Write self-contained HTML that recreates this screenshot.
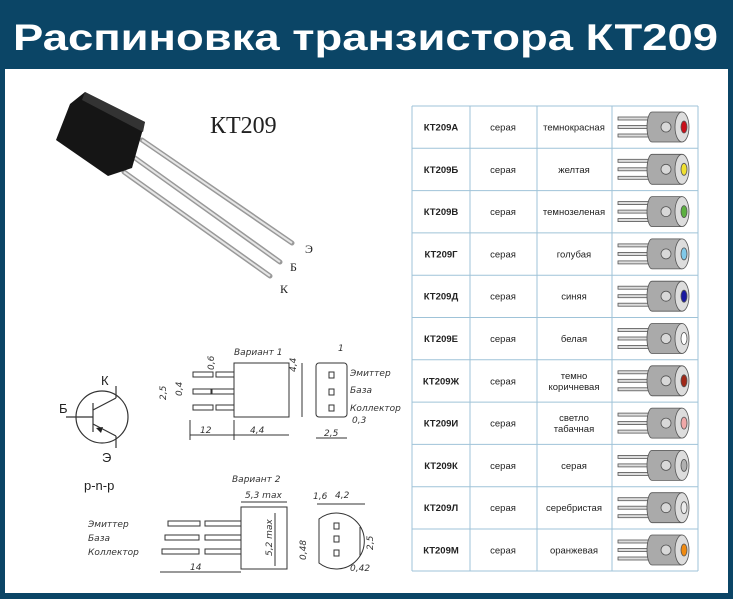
<!DOCTYPE html>
<html><head><meta charset="utf-8"><style>
html,body{margin:0;padding:0;background:#0b4566;}
svg{display:block}
</style></head><body>
<svg width="733" height="599" xmlns="http://www.w3.org/2000/svg" xmlns:xlink="http://www.w3.org/1999/xlink" font-family="Liberation Sans, DejaVu Sans, sans-serif">
<defs>
<g id="ic" stroke="#555" stroke-width="0.8">
<rect x="618" y="-10" width="34" height="3" fill="#ddd"/>
<rect x="618" y="-1.5" width="34" height="3" fill="#ddd"/>
<rect x="618" y="7" width="34" height="3" fill="#ddd"/>
<path d="M652 -15 h30 v30 h-30 a5 15 0 0 1 0 -30 z" fill="#aaa"/>
<ellipse cx="682" cy="0" rx="7" ry="15" fill="#ddd"/>
<circle cx="666" cy="0" r="5" fill="#d8d8d8"/>
</g>
</defs>
<rect width="733" height="599" fill="#0b4566"/>
<rect x="5" y="69" width="723" height="524" fill="#fff"/>
<text x="13" y="50" font-size="37" font-weight="bold" fill="#fff" textLength="705" lengthAdjust="spacingAndGlyphs">Распиновка транзистора КТ209</text>

<g>
<line x1="142" y1="140" x2="292" y2="243" stroke="#999" stroke-width="5" stroke-linecap="round"/>
<line x1="142" y1="140" x2="292" y2="243" stroke="#e6e6e6" stroke-width="2"/>
<line x1="135" y1="158" x2="280" y2="262" stroke="#999" stroke-width="5" stroke-linecap="round"/>
<line x1="135" y1="158" x2="280" y2="262" stroke="#e6e6e6" stroke-width="2"/>
<line x1="124" y1="172" x2="270" y2="276" stroke="#999" stroke-width="5" stroke-linecap="round"/>
<line x1="124" y1="172" x2="270" y2="276" stroke="#e6e6e6" stroke-width="2"/>
<polygon points="85,92 145,122 132,168 108,176 56,140 70,104" fill="#151515"/>
<polygon points="85,92 145,122 143,132 82,100" fill="#333"/>
<text x="210" y="133" font-family="Liberation Serif, serif" font-size="24" fill="#222">КТ209</text>
<text x="305" y="253" font-family="Liberation Serif, serif" font-size="12" fill="#222">Э</text>
<text x="290" y="271" font-family="Liberation Serif, serif" font-size="12" fill="#222">Б</text>
<text x="280" y="293" font-family="Liberation Serif, serif" font-size="12" fill="#222">К</text>
</g>

<g stroke="#333" stroke-width="1.2" fill="none">
<circle cx="102" cy="417" r="26"/>
<line x1="66" y1="417" x2="93" y2="417"/>
<line x1="93" y1="403" x2="93" y2="432"/>
<line x1="93" y1="410" x2="116" y2="398"/>
<line x1="116" y1="398" x2="116" y2="386"/>
<line x1="93" y1="424" x2="116" y2="436"/>
<line x1="116" y1="436" x2="116" y2="448"/>
</g>
<polygon points="96,428 103,427 101,433" fill="#222"/>
<text x="101" y="385" font-size="13" fill="#222">К</text>
<text x="59" y="413" font-size="13" fill="#222">Б</text>
<text x="102" y="462" font-size="13" fill="#222">Э</text>
<text x="84" y="490" font-size="13" fill="#222">p-n-p</text>

<g stroke="#333" stroke-width="1" fill="none">
<rect x="234" y="363" width="55" height="54"/>
<rect x="193" y="372" width="20" height="5"/><rect x="216" y="372" width="18" height="5"/>
<rect x="193" y="389" width="18" height="5"/><rect x="212" y="389" width="22" height="5"/>
<rect x="193" y="405" width="20" height="5"/><rect x="216" y="405" width="18" height="5"/>
<line x1="190" y1="435" x2="289" y2="435"/><line x1="234" y1="420" x2="234" y2="440"/><line x1="190" y1="420" x2="190" y2="440"/>
<line x1="302" y1="363" x2="302" y2="417"/>
<rect x="316" y="363" width="31" height="54" rx="3"/>
<rect x="329" y="372" width="5" height="6"/><rect x="329" y="389" width="5" height="6"/><rect x="329" y="405" width="5" height="6"/>
<line x1="316" y1="438" x2="347" y2="438"/>
<rect x="241" y="507" width="46" height="62"/>
<rect x="168" y="521" width="32" height="5"/><rect x="205" y="521" width="36" height="5"/>
<rect x="165" y="535" width="34" height="5"/><rect x="205" y="535" width="36" height="5"/>
<rect x="162" y="549" width="37" height="5"/><rect x="205" y="549" width="36" height="5"/>
<line x1="160" y1="572" x2="241" y2="572"/><line x1="241" y1="502" x2="287" y2="502"/>
<line x1="275" y1="513" x2="275" y2="566"/>
<path d="M319 519 A28 28 0 1 1 319 563 Z"/>
<rect x="334" y="523" width="5" height="6"/><rect x="334" y="536" width="5" height="6"/><rect x="334" y="550" width="5" height="6"/>
<line x1="317" y1="504" x2="365" y2="504"/><line x1="360" y1="527" x2="360" y2="556"/>
</g>
<g font-family="DejaVu Sans, sans-serif" font-style="italic" font-size="9" fill="#333">
<text x="234" y="355">Вариант 1</text>
<text x="200" y="433">12</text><text x="250" y="433">4,4</text>
<text x="350" y="376">Эмиттер</text><text x="350" y="393">База</text><text x="350" y="411">Коллектор</text>
<text x="352" y="423">0,3</text><text x="324" y="436">2,5</text><text x="338" y="351">1</text>
<text x="232" y="482">Вариант 2</text>
<text x="245" y="498">5,3 max</text>
<text x="88" y="527">Эмиттер</text><text x="88" y="541">База</text><text x="88" y="555">Коллектор</text>
<text x="190" y="570">14</text><text x="313" y="499">1,6</text><text x="335" y="498">4,2</text><text x="350" y="571">0,42</text>
<text transform="translate(296 372) rotate(-90)">4,4</text>
<text transform="translate(166 400) rotate(-90)">2,5</text>
<text transform="translate(182 396) rotate(-90)">0,4</text>
<text transform="translate(214 370) rotate(-90)">0,6</text>
<text transform="translate(272 556) rotate(-90)">5,2 max</text>
<text transform="translate(306 560) rotate(-90)">0,48</text>
<text transform="translate(373 550) rotate(-90)">2,5</text>
</g>

<g stroke="#9fc3d8" stroke-width="1">
<line x1="412" y1="106" x2="412" y2="571"/><line x1="470" y1="106" x2="470" y2="571"/>
<line x1="537" y1="106" x2="537" y2="571"/><line x1="612" y1="106" x2="612" y2="571"/>
<line x1="698" y1="106" x2="698" y2="571"/>
<line x1="412" y1="106" x2="698" y2="106"/><line x1="412" y1="148.3" x2="698" y2="148.3"/>
<line x1="412" y1="190.6" x2="698" y2="190.6"/><line x1="412" y1="232.9" x2="698" y2="232.9"/>
<line x1="412" y1="275.2" x2="698" y2="275.2"/><line x1="412" y1="317.5" x2="698" y2="317.5"/>
<line x1="412" y1="359.8" x2="698" y2="359.8"/><line x1="412" y1="402.1" x2="698" y2="402.1"/>
<line x1="412" y1="444.4" x2="698" y2="444.4"/><line x1="412" y1="486.7" x2="698" y2="486.7"/>
<line x1="412" y1="529" x2="698" y2="529"/><line x1="412" y1="571" x2="698" y2="571"/>
</g>

<g font-size="9.5" fill="#222" text-anchor="middle">
<g font-weight="bold">
<text x="441" y="130.5">КТ209А</text><text x="441" y="172.8">КТ209Б</text><text x="441" y="215.1">КТ209В</text>
<text x="441" y="257.4">КТ209Г</text><text x="441" y="299.7">КТ209Д</text><text x="441" y="342">КТ209Е</text>
<text x="441" y="384.3">КТ209Ж</text><text x="441" y="426.6">КТ209И</text><text x="441" y="468.9">КТ209К</text>
<text x="441" y="511.2">КТ209Л</text><text x="441" y="553.5">КТ209М</text>
</g>
<text x="503" y="130.5">серая</text><text x="503" y="172.8">серая</text><text x="503" y="215.1">серая</text>
<text x="503" y="257.4">серая</text><text x="503" y="299.7">серая</text><text x="503" y="342">серая</text>
<text x="503" y="384.3">серая</text><text x="503" y="426.6">серая</text><text x="503" y="468.9">серая</text>
<text x="503" y="511.2">серая</text><text x="503" y="553.5">серая</text>
<text x="574" y="130.5">темнокрасная</text><text x="574" y="172.8">желтая</text><text x="574" y="215.1">темнозеленая</text>
<text x="574" y="257.4">голубая</text><text x="574" y="299.7">синяя</text><text x="574" y="342">белая</text>
<text x="574" y="378.8">темно</text><text x="574" y="389.8">коричневая</text>
<text x="574" y="421.1">светло</text><text x="574" y="432.1">табачная</text>
<text x="574" y="468.9">серая</text><text x="574" y="511.2">серебристая</text><text x="574" y="553.5">оранжевая</text>
</g>

<use xlink:href="#ic" href="#ic" transform="translate(0 127)"/>
<use xlink:href="#ic" href="#ic" transform="translate(0 169.3)"/>
<use xlink:href="#ic" href="#ic" transform="translate(0 211.6)"/>
<use xlink:href="#ic" href="#ic" transform="translate(0 253.9)"/>
<use xlink:href="#ic" href="#ic" transform="translate(0 296.2)"/>
<use xlink:href="#ic" href="#ic" transform="translate(0 338.5)"/>
<use xlink:href="#ic" href="#ic" transform="translate(0 380.8)"/>
<use xlink:href="#ic" href="#ic" transform="translate(0 423.1)"/>
<use xlink:href="#ic" href="#ic" transform="translate(0 465.4)"/>
<use xlink:href="#ic" href="#ic" transform="translate(0 507.7)"/>
<use xlink:href="#ic" href="#ic" transform="translate(0 550)"/>
<g stroke="#555" stroke-width="0.8">
<ellipse cx="684" cy="127" rx="3" ry="6" fill="#c8101a"/>
<ellipse cx="684" cy="169.3" rx="3" ry="6" fill="#f0e030"/>
<ellipse cx="684" cy="211.6" rx="3" ry="6" fill="#5cb040"/>
<ellipse cx="684" cy="253.9" rx="3" ry="6" fill="#80c8e8"/>
<ellipse cx="684" cy="296.2" rx="3" ry="6" fill="#1a1aa0"/>
<ellipse cx="684" cy="338.5" rx="3" ry="6" fill="#ffffff"/>
<ellipse cx="684" cy="380.8" rx="3" ry="6" fill="#a02818"/>
<ellipse cx="684" cy="423.1" rx="3" ry="6" fill="#f0a8a8"/>
<ellipse cx="684" cy="465.4" rx="3" ry="6" fill="#b0b0b0"/>
<ellipse cx="684" cy="507.7" rx="3" ry="6" fill="#eaeaea"/>
<ellipse cx="684" cy="550" rx="3" ry="6" fill="#f08a10"/>
</g>
</svg>
</body></html>
